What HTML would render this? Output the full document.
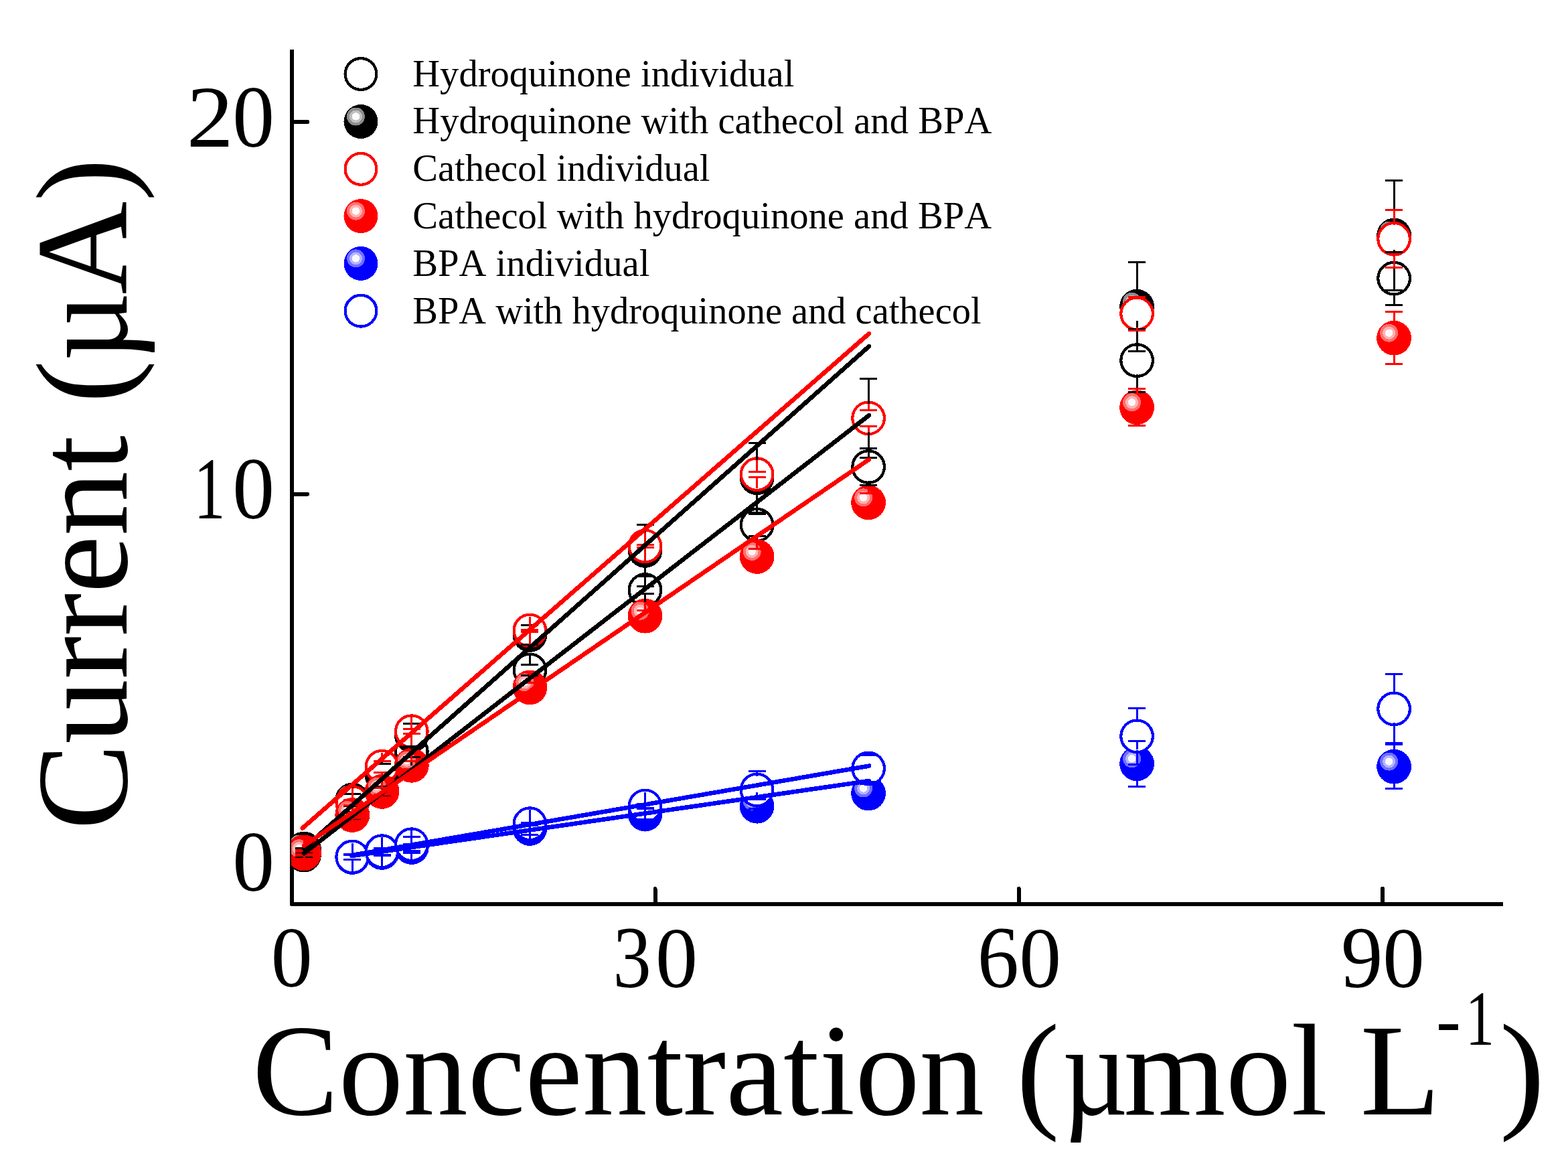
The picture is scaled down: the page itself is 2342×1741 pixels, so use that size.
<!DOCTYPE html>
<html lang="en">
<head>
<meta charset="utf-8">
<title>Calibration curves: hydroquinone, cathecol and BPA</title>
<style>
html,body{margin:0;padding:0;background:#fff;}
body{width:2342px;height:1741px;overflow:hidden;}
svg{display:block;}
text{font-family:"Liberation Serif",serif;fill:#000;white-space:pre;font-kerning:none;font-variant-ligatures:none;}
</style>
</head>
<body>
<svg width="2342" height="1741" viewBox="0 0 2342 1741" shape-rendering="crispEdges">
<rect width="2342" height="1741" fill="#fff"/>
<defs><clipPath id="plot"><rect x="435" y="0" width="2342" height="1350"/></clipPath></defs>
<g id="axes" stroke="#000" stroke-width="6" fill="none" stroke-linecap="round">
<path stroke-linecap="butt" stroke-linejoin="round" d="M436 73.6V1350H2245"/>
<path d="M436 182H459"/><path d="M436 737.8H459"/><path d="M978.5 1350V1327"/><path d="M1521.8 1350V1327"/><path d="M2065 1350V1327"/>
</g>
<g id="ticklabels">
<text transform="translate(278.76 218.60) scale(1.0770 1.0116)" font-size="130"><tspan x="0.00" y="0.00" textLength="65.00" lengthAdjust="spacingAndGlyphs">2</tspan><tspan x="63.53" y="0.36" font-size="129.15" textLength="58.21" lengthAdjust="spacingAndGlyphs">0</tspan></text>
<text transform="translate(289.47 773.80) scale(0.7239 1.0177)" font-size="130"><tspan x="0.00" y="0.00" textLength="65.00" lengthAdjust="spacingAndGlyphs">1</tspan><tspan x="79.73" y="0.35" font-size="128.38" textLength="86.61" lengthAdjust="spacingAndGlyphs">0</tspan></text>
<text transform="translate(347.17 1330.15) scale(0.9644 0.9992)" font-size="130">0</text>
<text transform="translate(404.79 1473.35) scale(0.9528 1.0003)" font-size="130">0</text>
<text transform="translate(915.48 1474.13) scale(0.8807 1.0130)" font-size="130"><tspan x="0.00" y="0.00" textLength="65.00" lengthAdjust="spacingAndGlyphs">3</tspan><tspan x="72.17" y="0.26" font-size="128.16" textLength="71.62" lengthAdjust="spacingAndGlyphs">0</tspan></text>
<text transform="translate(1459.68 1474.13) scale(0.9564 1.0129)" font-size="130"><tspan x="0.00" y="0.00" textLength="65.00" lengthAdjust="spacingAndGlyphs">6</tspan><tspan x="65.38" y="0.28" font-size="128.17" textLength="65.71" lengthAdjust="spacingAndGlyphs">0</tspan></text>
<text transform="translate(2003.05 1474.13) scale(0.9604 1.0078)" font-size="130"><tspan x="0.00" y="0.00" textLength="65.00" lengthAdjust="spacingAndGlyphs">9</tspan><tspan x="64.73" y="0.28" font-size="128.77" textLength="65.17" lengthAdjust="spacingAndGlyphs">0</tspan></text>
</g>
<g id="titles">
<text transform="translate(189.00 1238.97) rotate(-90) scale(0.9639 0.9700)" font-size="200"><tspan x="0.00" textLength="727.55" lengthAdjust="spacingAndGlyphs">Current (</tspan><tspan x="725.95" textLength="106.36" lengthAdjust="spacingAndGlyphs">µ</tspan><tspan x="829.14" textLength="210.82" lengthAdjust="spacingAndGlyphs">A)</tspan></text>
<text transform="translate(377.06 1663.60) scale(0.9647 0.9700)" font-size="200"><tspan x="0.00" y="0.00" textLength="1249.61" lengthAdjust="spacingAndGlyphs">Concentration (</tspan><tspan x="1253.67" y="0.00" textLength="101.77" lengthAdjust="spacingAndGlyphs">µ</tspan><tspan x="1349.14" y="0.00" textLength="489.82" lengthAdjust="spacingAndGlyphs">mol L</tspan><tspan x="1832.69" y="-106.08" font-size="119.59" textLength="38.31" lengthAdjust="spacingAndGlyphs">-</tspan><tspan x="1878.19" y="-106.59" font-size="119.62" textLength="44.52" lengthAdjust="spacingAndGlyphs">1</tspan><tspan x="1930.60" y="0.00" textLength="70.56" lengthAdjust="spacingAndGlyphs">)</tspan></text>
</g>
<g id="legend">
<circle cx="539" cy="110.5" r="23.4" fill="#fff" stroke="#000" stroke-width="4.2"/><text transform="translate(616.27 129.00) scale(0.9588 0.9750)" font-size="59">Hydroquinone individual</text>
<circle cx="539" cy="181.5" r="25.5" fill="#000"/><circle cx="531.5" cy="174" r="13.5" fill="#8c8c8c"/><circle cx="531.5" cy="174" r="9.5" fill="#c0c0c0"/><circle cx="531.5" cy="174" r="5.7" fill="#fcfcfc"/><text transform="translate(616.26 199.30) scale(0.9599 0.9750)" font-size="59">Hydroquinone with cathecol and BPA</text>
<circle cx="539" cy="252.4" r="23.4" fill="#fff" stroke="#f00" stroke-width="4.2"/><text transform="translate(616.16 270.00) scale(0.9586 0.9750)" font-size="59">Cathecol individual</text>
<circle cx="539" cy="322.6" r="25.5" fill="#f00"/><circle cx="531.5" cy="315.1" r="13.5" fill="#ff7070"/><circle cx="531.5" cy="315.1" r="9.5" fill="#ffb4b4"/><circle cx="531.5" cy="315.1" r="5.7" fill="#fff8f8"/><text transform="translate(616.36 340.90) scale(0.9597 0.9750)" font-size="59">Cathecol with hydroquinone and BPA</text>
<circle cx="539" cy="393.4" r="25.5" fill="#00f"/><circle cx="531.5" cy="385.9" r="13.5" fill="#7070ff"/><circle cx="531.5" cy="385.9" r="9.5" fill="#b4b4ff"/><circle cx="531.5" cy="385.9" r="5.7" fill="#f8f8ff"/><text transform="translate(616.21 411.70) scale(0.9606 0.9750)" font-size="59">BPA individual</text>
<circle cx="539" cy="464.2" r="23.4" fill="#fff" stroke="#00f" stroke-width="4.2"/><text transform="translate(616.27 482.50) scale(0.9565 0.9750)" font-size="59">BPA with hydroquinone and cathecol</text>
</g>
<g id="data" clip-path="url(#plot)">
<g id="markers">
<g><circle cx="454" cy="1276.5" r="23.8" fill="#fff" stroke="#000" stroke-width="4.2"/><circle cx="526.2" cy="1217" r="23.8" fill="#fff" stroke="#000" stroke-width="4.2"/><circle cx="570.5" cy="1181.9" r="23.8" fill="#fff" stroke="#000" stroke-width="4.2"/><circle cx="614.8" cy="1122" r="23.8" fill="#fff" stroke="#000" stroke-width="4.2"/><circle cx="791.4" cy="1000.4" r="23.8" fill="#fff" stroke="#000" stroke-width="4.2"/><circle cx="963.5" cy="881" r="23.8" fill="#fff" stroke="#000" stroke-width="4.2"/><circle cx="1130.6" cy="783.8" r="23.8" fill="#fff" stroke="#000" stroke-width="4.2"/><circle cx="1297.1" cy="697" r="23.8" fill="#fff" stroke="#000" stroke-width="4.2"/><circle cx="1698.1" cy="538.1" r="23.8" fill="#fff" stroke="#000" stroke-width="4.2"/><circle cx="2082.1" cy="415.6" r="23.8" fill="#fff" stroke="#000" stroke-width="4.2"/></g>
<g><circle cx="454" cy="1267.5" r="25.9" fill="#000"/><circle cx="446.5" cy="1260" r="13.5" fill="#8c8c8c"/><circle cx="446.5" cy="1260" r="9.5" fill="#c0c0c0"/><circle cx="446.5" cy="1260" r="5.7" fill="#fcfcfc"/><circle cx="526.2" cy="1194.5" r="25.9" fill="#000"/><circle cx="518.7" cy="1187" r="13.5" fill="#8c8c8c"/><circle cx="518.7" cy="1187" r="9.5" fill="#c0c0c0"/><circle cx="518.7" cy="1187" r="5.7" fill="#fcfcfc"/><circle cx="570.5" cy="1157.5" r="25.9" fill="#000"/><circle cx="563" cy="1150" r="13.5" fill="#8c8c8c"/><circle cx="563" cy="1150" r="9.5" fill="#c0c0c0"/><circle cx="563" cy="1150" r="5.7" fill="#fcfcfc"/><circle cx="614.8" cy="1098" r="25.9" fill="#000"/><circle cx="607.3" cy="1090.5" r="13.5" fill="#8c8c8c"/><circle cx="607.3" cy="1090.5" r="9.5" fill="#c0c0c0"/><circle cx="607.3" cy="1090.5" r="5.7" fill="#fcfcfc"/><circle cx="791.4" cy="948" r="25.9" fill="#000"/><circle cx="783.9" cy="940.5" r="13.5" fill="#8c8c8c"/><circle cx="783.9" cy="940.5" r="9.5" fill="#c0c0c0"/><circle cx="783.9" cy="940.5" r="5.7" fill="#fcfcfc"/><circle cx="963.5" cy="822" r="25.9" fill="#000"/><circle cx="956" cy="814.5" r="13.5" fill="#8c8c8c"/><circle cx="956" cy="814.5" r="9.5" fill="#c0c0c0"/><circle cx="956" cy="814.5" r="5.7" fill="#fcfcfc"/><circle cx="1130.6" cy="713.3" r="25.9" fill="#000"/><circle cx="1123.1" cy="705.8" r="13.5" fill="#8c8c8c"/><circle cx="1123.1" cy="705.8" r="9.5" fill="#c0c0c0"/><circle cx="1123.1" cy="705.8" r="5.7" fill="#fcfcfc"/><circle cx="1297.1" cy="624.3" r="25.9" fill="#000"/><circle cx="1289.6" cy="616.8" r="13.5" fill="#8c8c8c"/><circle cx="1289.6" cy="616.8" r="9.5" fill="#c0c0c0"/><circle cx="1289.6" cy="616.8" r="5.7" fill="#fcfcfc"/><circle cx="1698.1" cy="457.7" r="25.9" fill="#000"/><circle cx="1690.6" cy="450.2" r="13.5" fill="#8c8c8c"/><circle cx="1690.6" cy="450.2" r="9.5" fill="#c0c0c0"/><circle cx="1690.6" cy="450.2" r="5.7" fill="#fcfcfc"/><circle cx="2082.1" cy="351.5" r="25.9" fill="#000"/><circle cx="2074.6" cy="344" r="13.5" fill="#8c8c8c"/><circle cx="2074.6" cy="344" r="9.5" fill="#c0c0c0"/><circle cx="2074.6" cy="344" r="5.7" fill="#fcfcfc"/></g>
<g><circle cx="454" cy="1272.5" r="23.8" fill="#fff" stroke="#f00" stroke-width="4.2"/><circle cx="526.2" cy="1198" r="23.8" fill="#fff" stroke="#f00" stroke-width="4.2"/><circle cx="570.5" cy="1144.7" r="23.8" fill="#fff" stroke="#f00" stroke-width="4.2"/><circle cx="614.8" cy="1092.2" r="23.8" fill="#fff" stroke="#f00" stroke-width="4.2"/><circle cx="791.4" cy="941.5" r="23.8" fill="#fff" stroke="#f00" stroke-width="4.2"/><circle cx="963.5" cy="815.5" r="23.8" fill="#fff" stroke="#f00" stroke-width="4.2"/><circle cx="1130.6" cy="708.1" r="23.8" fill="#fff" stroke="#f00" stroke-width="4.2"/><circle cx="1297.1" cy="624.3" r="23.8" fill="#fff" stroke="#f00" stroke-width="4.2"/><circle cx="1698.1" cy="468.4" r="23.8" fill="#fff" stroke="#f00" stroke-width="4.2"/><circle cx="2082.1" cy="356.8" r="23.8" fill="#fff" stroke="#f00" stroke-width="4.2"/></g>
<g><circle cx="454" cy="1274.3" r="25.9" fill="#f00"/><circle cx="446.5" cy="1266.8" r="13.5" fill="#ff7070"/><circle cx="446.5" cy="1266.8" r="9.5" fill="#ffb4b4"/><circle cx="446.5" cy="1266.8" r="5.7" fill="#fff8f8"/><circle cx="526.2" cy="1217" r="25.9" fill="#f00"/><circle cx="518.7" cy="1209.5" r="13.5" fill="#ff7070"/><circle cx="518.7" cy="1209.5" r="9.5" fill="#ffb4b4"/><circle cx="518.7" cy="1209.5" r="5.7" fill="#fff8f8"/><circle cx="570.5" cy="1181.9" r="25.9" fill="#f00"/><circle cx="563" cy="1174.4" r="13.5" fill="#ff7070"/><circle cx="563" cy="1174.4" r="9.5" fill="#ffb4b4"/><circle cx="563" cy="1174.4" r="5.7" fill="#fff8f8"/><circle cx="614.8" cy="1142.8" r="25.9" fill="#f00"/><circle cx="607.3" cy="1135.3" r="13.5" fill="#ff7070"/><circle cx="607.3" cy="1135.3" r="9.5" fill="#ffb4b4"/><circle cx="607.3" cy="1135.3" r="5.7" fill="#fff8f8"/><circle cx="791.4" cy="1026.4" r="25.9" fill="#f00"/><circle cx="783.9" cy="1018.9" r="13.5" fill="#ff7070"/><circle cx="783.9" cy="1018.9" r="9.5" fill="#ffb4b4"/><circle cx="783.9" cy="1018.9" r="5.7" fill="#fff8f8"/><circle cx="963.5" cy="919.7" r="25.9" fill="#f00"/><circle cx="956" cy="912.2" r="13.5" fill="#ff7070"/><circle cx="956" cy="912.2" r="9.5" fill="#ffb4b4"/><circle cx="956" cy="912.2" r="5.7" fill="#fff8f8"/><circle cx="1130.6" cy="831" r="25.9" fill="#f00"/><circle cx="1123.1" cy="823.5" r="13.5" fill="#ff7070"/><circle cx="1123.1" cy="823.5" r="9.5" fill="#ffb4b4"/><circle cx="1123.1" cy="823.5" r="5.7" fill="#fff8f8"/><circle cx="1297.1" cy="750.4" r="25.9" fill="#f00"/><circle cx="1289.6" cy="742.9" r="13.5" fill="#ff7070"/><circle cx="1289.6" cy="742.9" r="9.5" fill="#ffb4b4"/><circle cx="1289.6" cy="742.9" r="5.7" fill="#fff8f8"/><circle cx="1698.1" cy="608.2" r="25.9" fill="#f00"/><circle cx="1690.6" cy="600.7" r="13.5" fill="#ff7070"/><circle cx="1690.6" cy="600.7" r="9.5" fill="#ffb4b4"/><circle cx="1690.6" cy="600.7" r="5.7" fill="#fff8f8"/><circle cx="2082.1" cy="504.7" r="25.9" fill="#f00"/><circle cx="2074.6" cy="497.2" r="13.5" fill="#ff7070"/><circle cx="2074.6" cy="497.2" r="9.5" fill="#ffb4b4"/><circle cx="2074.6" cy="497.2" r="5.7" fill="#fff8f8"/></g>
<g><circle cx="526.2" cy="1280" r="25.9" fill="#00f"/><circle cx="518.7" cy="1272.5" r="13.5" fill="#7070ff"/><circle cx="518.7" cy="1272.5" r="9.5" fill="#b4b4ff"/><circle cx="518.7" cy="1272.5" r="5.7" fill="#f8f8ff"/><circle cx="570.5" cy="1273" r="25.9" fill="#00f"/><circle cx="563" cy="1265.5" r="13.5" fill="#7070ff"/><circle cx="563" cy="1265.5" r="9.5" fill="#b4b4ff"/><circle cx="563" cy="1265.5" r="5.7" fill="#f8f8ff"/><circle cx="614.8" cy="1265" r="25.9" fill="#00f"/><circle cx="607.3" cy="1257.5" r="13.5" fill="#7070ff"/><circle cx="607.3" cy="1257.5" r="9.5" fill="#b4b4ff"/><circle cx="607.3" cy="1257.5" r="5.7" fill="#f8f8ff"/><circle cx="791.4" cy="1237" r="25.9" fill="#00f"/><circle cx="783.9" cy="1229.5" r="13.5" fill="#7070ff"/><circle cx="783.9" cy="1229.5" r="9.5" fill="#b4b4ff"/><circle cx="783.9" cy="1229.5" r="5.7" fill="#f8f8ff"/><circle cx="963.5" cy="1215.6" r="25.9" fill="#00f"/><circle cx="956" cy="1208.1" r="13.5" fill="#7070ff"/><circle cx="956" cy="1208.1" r="9.5" fill="#b4b4ff"/><circle cx="956" cy="1208.1" r="5.7" fill="#f8f8ff"/><circle cx="1130.6" cy="1203.7" r="25.9" fill="#00f"/><circle cx="1123.1" cy="1196.2" r="13.5" fill="#7070ff"/><circle cx="1123.1" cy="1196.2" r="9.5" fill="#b4b4ff"/><circle cx="1123.1" cy="1196.2" r="5.7" fill="#f8f8ff"/><circle cx="1297.1" cy="1184.5" r="25.9" fill="#00f"/><circle cx="1289.6" cy="1177" r="13.5" fill="#7070ff"/><circle cx="1289.6" cy="1177" r="9.5" fill="#b4b4ff"/><circle cx="1289.6" cy="1177" r="5.7" fill="#f8f8ff"/><circle cx="1698.1" cy="1140.3" r="25.9" fill="#00f"/><circle cx="1690.6" cy="1132.8" r="13.5" fill="#7070ff"/><circle cx="1690.6" cy="1132.8" r="9.5" fill="#b4b4ff"/><circle cx="1690.6" cy="1132.8" r="5.7" fill="#f8f8ff"/><circle cx="2082.1" cy="1144.6" r="25.9" fill="#00f"/><circle cx="2074.6" cy="1137.1" r="13.5" fill="#7070ff"/><circle cx="2074.6" cy="1137.1" r="9.5" fill="#b4b4ff"/><circle cx="2074.6" cy="1137.1" r="5.7" fill="#f8f8ff"/></g>
<g><circle cx="526.2" cy="1279.5" r="23.8" fill="#fff" stroke="#00f" stroke-width="4.2"/><circle cx="570.5" cy="1271.2" r="23.8" fill="#fff" stroke="#00f" stroke-width="4.2"/><circle cx="614.8" cy="1261.2" r="23.8" fill="#fff" stroke="#00f" stroke-width="4.2"/><circle cx="791.4" cy="1230.2" r="23.8" fill="#fff" stroke="#00f" stroke-width="4.2"/><circle cx="963.5" cy="1203.6" r="23.8" fill="#fff" stroke="#00f" stroke-width="4.2"/><circle cx="1130.6" cy="1179.5" r="23.8" fill="#fff" stroke="#00f" stroke-width="4.2"/><circle cx="1297.1" cy="1147.4" r="23.8" fill="#fff" stroke="#00f" stroke-width="4.2"/><circle cx="1698.1" cy="1099.3" r="23.8" fill="#fff" stroke="#00f" stroke-width="4.2"/><circle cx="2082.1" cy="1058.4" r="23.8" fill="#fff" stroke="#00f" stroke-width="4.2"/></g>
</g>
<g id="errorbars">
<g><path d="M441 1273.4H467M441 1279.6H467" stroke="#000" stroke-width="3" fill="none"/><path d="M526.2 1196V1212M513.2 1212H539.2M526.2 1238V1222M513.2 1222H539.2" stroke="#000" stroke-width="3" fill="none"/><path d="M570.5 1160.9V1175.9M557.5 1175.9H583.5M570.5 1202.9V1187.9M557.5 1187.9H583.5" stroke="#000" stroke-width="3" fill="none"/><path d="M614.8 1101V1114M601.8 1114H627.8M614.8 1143V1130M601.8 1130H627.8" stroke="#000" stroke-width="3" fill="none"/><path d="M791.4 979.4V992.8M778.4 992.8H804.4M791.4 1021.4V1008M778.4 1008H804.4" stroke="#000" stroke-width="3" fill="none"/><path d="M963.5 860V875.1M950.5 875.1H976.5M963.5 902V886.9M950.5 886.9H976.5" stroke="#000" stroke-width="3" fill="none"/><path d="M1130.6 762.8V767.2M1117.6 767.2H1143.6M1130.6 804.8V800.4M1117.6 800.4H1143.6" stroke="#000" stroke-width="3" fill="none"/><path d="M1297.1 676V669.5M1284.1 669.5H1310.1M1297.1 718V724.5M1284.1 724.5H1310.1" stroke="#000" stroke-width="3" fill="none"/><path d="M1698.1 517.1V491.1M1685.1 491.1H1711.1M1698.1 559.1V585.1M1685.1 585.1H1711.1" stroke="#000" stroke-width="3" fill="none"/><path d="M2082.1 394.6V376.1M2069.1 376.1H2095.1M2082.1 436.6V455.1M2069.1 455.1H2095.1" stroke="#000" stroke-width="3" fill="none"/></g>
<g><path d="M441 1266.5H467M441 1268.5H467" stroke="#000" stroke-width="3" fill="none"/><path d="M526.2 1173.5V1185.5M513.2 1185.5H539.2M526.2 1215.5V1203.5M513.2 1203.5H539.2" stroke="#000" stroke-width="3" fill="none"/><path d="M570.5 1136.5V1140.5M557.5 1140.5H583.5M570.5 1178.5V1174.5M557.5 1174.5H583.5" stroke="#000" stroke-width="3" fill="none"/><path d="M614.8 1077V1080.7M601.8 1080.7H627.8M614.8 1119V1115.3M601.8 1115.3H627.8" stroke="#000" stroke-width="3" fill="none"/><path d="M791.4 927V933.7M778.4 933.7H804.4M791.4 969V962.3M778.4 962.3H804.4" stroke="#000" stroke-width="3" fill="none"/><path d="M963.5 801V783.6M950.5 783.6H976.5M963.5 843V860.4M950.5 860.4H976.5" stroke="#000" stroke-width="3" fill="none"/><path d="M1130.6 692.3V661.2M1117.6 661.2H1143.6M1130.6 734.3V765.4M1117.6 765.4H1143.6" stroke="#000" stroke-width="3" fill="none"/><path d="M1297.1 603.3V565.3M1284.1 565.3H1310.1M1297.1 645.3V683.3M1284.1 683.3H1310.1" stroke="#000" stroke-width="3" fill="none"/><path d="M1698.1 436.7V391.2M1685.1 391.2H1711.1M1698.1 478.7V524.2M1685.1 524.2H1711.1" stroke="#000" stroke-width="3" fill="none"/><path d="M2082.1 330.5V269.5M2069.1 269.5H2095.1M2082.1 372.5V433.5M2069.1 433.5H2095.1" stroke="#000" stroke-width="3" fill="none"/></g>
<g><path d="M454 1251.5V1269.5M441 1269.5H467M454 1293.5V1275.5M441 1275.5H467" stroke="#f00" stroke-width="3" fill="none"/><path d="M526.2 1177V1194M513.2 1194H539.2M526.2 1219V1202M513.2 1202H539.2" stroke="#f00" stroke-width="3" fill="none"/><path d="M570.5 1123.7V1136.2M557.5 1136.2H583.5M570.5 1165.7V1153.2M557.5 1153.2H583.5" stroke="#f00" stroke-width="3" fill="none"/><path d="M614.8 1071.2V1088.7M601.8 1088.7H627.8M614.8 1113.2V1095.7M601.8 1095.7H627.8" stroke="#f00" stroke-width="3" fill="none"/><path d="M791.4 920.5V940M778.4 940H804.4M791.4 962.5V943M778.4 943H804.4" stroke="#f00" stroke-width="3" fill="none"/><path d="M963.5 794.5V813.1M950.5 813.1H976.5M963.5 836.5V817.9M950.5 817.9H976.5" stroke="#f00" stroke-width="3" fill="none"/><path d="M1130.6 687.1V704M1117.6 704H1143.6M1130.6 729.1V712.2M1117.6 712.2H1143.6" stroke="#f00" stroke-width="3" fill="none"/><path d="M1297.1 603.3V612.2M1284.1 612.2H1310.1M1297.1 645.3V636.4M1284.1 636.4H1310.1" stroke="#f00" stroke-width="3" fill="none"/><path d="M1698.1 447.4V443.7M1685.1 443.7H1711.1M1698.1 489.4V493.1M1685.1 493.1H1711.1" stroke="#f00" stroke-width="3" fill="none"/><path d="M2082.1 335.8V313.8M2069.1 313.8H2095.1M2082.1 377.8V399.8M2069.1 399.8H2095.1" stroke="#f00" stroke-width="3" fill="none"/></g>
<g><path d="M454 1253.3V1271.3M441 1271.3H467M454 1295.3V1277.3M441 1277.3H467" stroke="#f00" stroke-width="3" fill="none"/><path d="M526.2 1196V1213M513.2 1213H539.2M526.2 1238V1221M513.2 1221H539.2" stroke="#f00" stroke-width="3" fill="none"/><path d="M570.5 1160.9V1176.9M557.5 1176.9H583.5M570.5 1202.9V1186.9M557.5 1186.9H583.5" stroke="#f00" stroke-width="3" fill="none"/><path d="M614.8 1121.8V1136.8M601.8 1136.8H627.8M614.8 1163.8V1148.8M601.8 1148.8H627.8" stroke="#f00" stroke-width="3" fill="none"/><path d="M791.4 1005.4V1019.4M778.4 1019.4H804.4M791.4 1047.4V1033.4M778.4 1033.4H804.4" stroke="#f00" stroke-width="3" fill="none"/><path d="M963.5 898.7V911M950.5 911H976.5M963.5 940.7V928.4M950.5 928.4H976.5" stroke="#f00" stroke-width="3" fill="none"/><path d="M1130.6 810V819M1117.6 819H1143.6M1130.6 852V843M1117.6 843H1143.6" stroke="#f00" stroke-width="3" fill="none"/><path d="M1297.1 729.4V736.9M1284.1 736.9H1310.1M1297.1 771.4V763.9M1284.1 763.9H1310.1" stroke="#f00" stroke-width="3" fill="none"/><path d="M1698.1 587.2V580.6M1685.1 580.6H1711.1M1698.1 629.2V635.8M1685.1 635.8H1711.1" stroke="#f00" stroke-width="3" fill="none"/><path d="M2082.1 483.7V465.7M2069.1 465.7H2095.1M2082.1 525.7V543.7M2069.1 543.7H2095.1" stroke="#f00" stroke-width="3" fill="none"/></g>
<g><path d="M526.2 1259V1276.5M513.2 1276.5H539.2M526.2 1301V1283.5M513.2 1283.5H539.2" stroke="#00f" stroke-width="3" fill="none"/><path d="M570.5 1252V1269M557.5 1269H583.5M570.5 1294V1277M557.5 1277H583.5" stroke="#00f" stroke-width="3" fill="none"/><path d="M614.8 1244V1260M601.8 1260H627.8M614.8 1286V1270M601.8 1270H627.8" stroke="#00f" stroke-width="3" fill="none"/><path d="M791.4 1216V1228M778.4 1228H804.4M791.4 1258V1246M778.4 1246H804.4" stroke="#00f" stroke-width="3" fill="none"/><path d="M963.5 1194.6V1207.6M950.5 1207.6H976.5M963.5 1236.6V1223.6M950.5 1223.6H976.5" stroke="#00f" stroke-width="3" fill="none"/><path d="M1130.6 1182.7V1193.7M1117.6 1193.7H1143.6M1130.6 1224.7V1213.7M1117.6 1213.7H1143.6" stroke="#00f" stroke-width="3" fill="none"/><path d="M1297.1 1163.5V1170.5M1284.1 1170.5H1310.1M1297.1 1205.5V1198.5M1284.1 1198.5H1310.1" stroke="#00f" stroke-width="3" fill="none"/><path d="M1698.1 1119.3V1106.3M1685.1 1106.3H1711.1M1698.1 1161.3V1174.3M1685.1 1174.3H1711.1" stroke="#00f" stroke-width="3" fill="none"/><path d="M2082.1 1123.6V1111.6M2069.1 1111.6H2095.1M2082.1 1165.6V1177.6M2069.1 1177.6H2095.1" stroke="#00f" stroke-width="3" fill="none"/></g>
<g><path d="M526.2 1258.5V1275.7M513.2 1275.7H539.2M526.2 1300.5V1283.3M513.2 1283.3H539.2" stroke="#00f" stroke-width="3" fill="none"/><path d="M570.5 1250.2V1266.2M557.5 1266.2H583.5M570.5 1292.2V1276.2M557.5 1276.2H583.5" stroke="#00f" stroke-width="3" fill="none"/><path d="M614.8 1240.2V1249.2M601.8 1249.2H627.8M614.8 1282.2V1273.2M601.8 1273.2H627.8" stroke="#00f" stroke-width="3" fill="none"/><path d="M791.4 1209.2V1228.2M778.4 1228.2H804.4M791.4 1251.2V1232.2M778.4 1232.2H804.4" stroke="#00f" stroke-width="3" fill="none"/><path d="M963.5 1182.6V1200.6M950.5 1200.6H976.5M963.5 1224.6V1206.6M950.5 1206.6H976.5" stroke="#00f" stroke-width="3" fill="none"/><path d="M1130.6 1158.5V1151.5M1117.6 1151.5H1143.6M1130.6 1200.5V1207.5M1117.6 1207.5H1143.6" stroke="#00f" stroke-width="3" fill="none"/><path d="M1297.1 1126.4V1127.4M1284.1 1127.4H1310.1M1297.1 1168.4V1167.4M1284.1 1167.4H1310.1" stroke="#00f" stroke-width="3" fill="none"/><path d="M1698.1 1078.3V1057.3M1685.1 1057.3H1711.1M1698.1 1120.3V1141.3M1685.1 1141.3H1711.1" stroke="#00f" stroke-width="3" fill="none"/><path d="M2082.1 1037.4V1006.9M2069.1 1006.9H2095.1M2082.1 1079.4V1109.9M2069.1 1109.9H2095.1" stroke="#00f" stroke-width="3" fill="none"/></g>
</g>
<g id="fits" fill="none" stroke-linecap="round" stroke-width="6.6">
<path d="M454 1274.2L1297.9 620.2" stroke="#000"/>
<path d="M454 1266.6L1297.9 517.2" stroke="#000"/>
<path d="M451.8 1236.5L1297.9 498.2" stroke="#f00"/>
<path d="M454 1262.8L1297.9 686.1" stroke="#f00"/>
<path d="M525.7 1278L1298 1166" stroke="#00f"/>
<path d="M525.7 1277L1298 1143.6" stroke="#00f"/>
</g>
</g>
</svg>
</body>
</html>
